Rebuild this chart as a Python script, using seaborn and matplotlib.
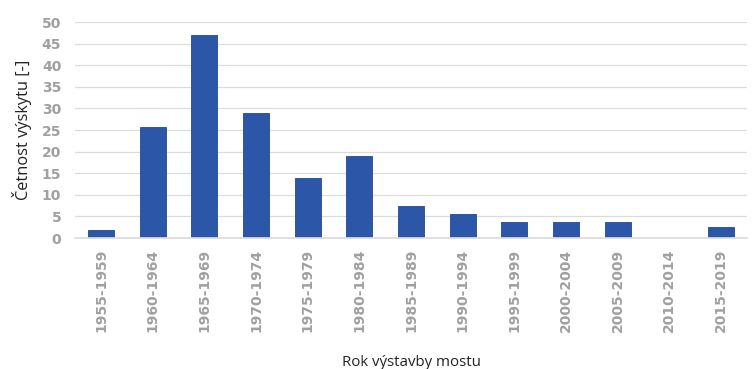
import matplotlib
matplotlib.use("Agg")
import matplotlib.pyplot as plt
import seaborn as sns
import pandas as pd

categories = ["1955-1959", "1960-1964", "1965-1969", "1970-1974", "1975-1979",
              "1980-1984", "1985-1989", "1990-1994", "1995-1999", "2000-2004",
              "2005-2009", "2010-2014", "2015-2019"]
values = [1.8, 25.8, 47, 29, 14, 19, 7.5, 5.6, 3.8, 3.8, 3.8, 0, 2.6]
yticks = [0, 5, 10, 15, 20, 25, 30, 35, 40, 45, 50]

df = pd.DataFrame({"kat": categories, "n": values})

sns.set_theme(style="white")
plt.rcParams['font.family'] = ['DejaVu Sans']

fig = plt.figure(figsize=(7.52, 3.69), dpi=100)
ax = fig.add_axes([0.1, 0.355, 0.893, 0.585])

sns.barplot(data=df, x="kat", y="n", color="#2c57a8", saturation=1,
            width=0.5, ax=ax, edgecolor="#24488e", linewidth=0.6)

ax.set_ylim(0, 50)
ax.set_yticks(yticks)
ax.set_xlim(-0.5, len(categories) - 0.5)
ax.yaxis.grid(True, color="#dcdcdc", linewidth=0.9)
ax.set_axisbelow(True)
for s in ["top", "right", "left"]:
    ax.spines[s].set_visible(False)
ax.spines["bottom"].set_color("#dcdcdc")

ax.tick_params(axis="y", length=0, pad=10)
ax.tick_params(axis="x", length=0, pad=8)
for lab in ax.get_yticklabels():
    lab.set_fontfamily("DejaVu Sans")
    lab.set_fontsize(10)
    lab.set_fontweight("bold")
    lab.set_color("#a0a0a0")
for lab in ax.get_xticklabels():
    lab.set_fontfamily("DejaVu Sans")
    lab.set_fontsize(10)
    lab.set_fontweight("bold")
    lab.set_color("#a0a0a0")
    lab.set_rotation(90)

ax.set_ylabel("Četnost výskytu [-]", fontsize=11.8, color="#222222",
              fontfamily="Open Sans", labelpad=7)
ax.set_xlabel("Rok výstavby mostu", fontsize=10.8, color="#222222",
              fontfamily="Open Sans", labelpad=16)

fig.savefig("out.png", dpi=100)
